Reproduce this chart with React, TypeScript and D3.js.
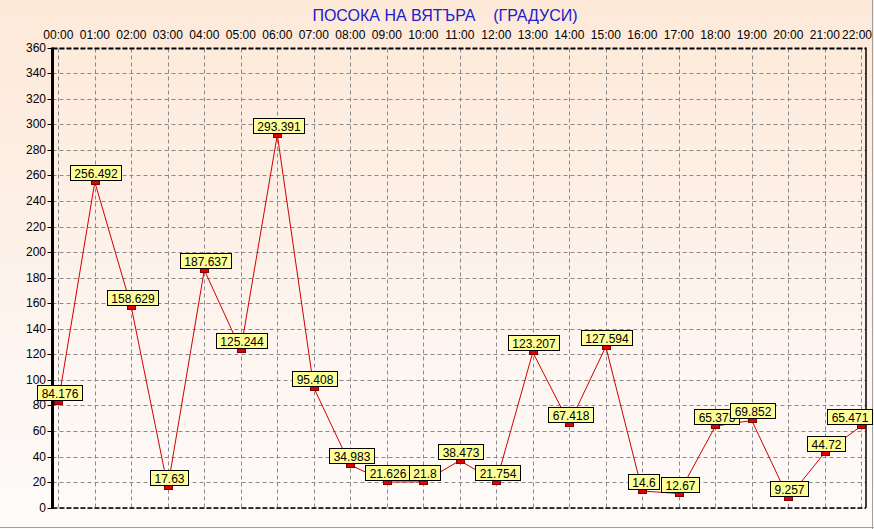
import React from "react";
import * as d3 from "d3";

const hours = ["00:00","01:00","02:00","03:00","04:00","05:00","06:00","07:00","08:00","09:00","10:00","11:00","12:00","13:00","14:00","15:00","16:00","17:00","18:00","19:00","20:00","21:00","22:00"];
const values = [84.176,256.492,158.629,17.63,187.637,125.244,293.391,95.408,34.983,21.626,21.8,38.473,21.754,123.207,67.418,127.594,14.6,12.67,65.373,69.852,9.257,44.72,65.471];
const labels = ["84.176","256.492","158.629","17.63","187.637","125.244","293.391","95.408","34.983","21.626","21.8","38.473","21.754","123.207","67.418","127.594","14.6","12.67","65.373","69.852","9.257","44.72","65.471"];
const yTicks = d3.range(0, 361, 20);
const title = "ПОСОКА НА ВЯТЪРА    (ГРАДУСИ)";

const W = 874, H = 529;
const FONT = "Arial, 'Liberation Sans', sans-serif";

let ctx: CanvasRenderingContext2D | null = null;
function measure(t: string, size = 12) {
  if (!ctx) ctx = document.createElement("canvas").getContext("2d");
  if (!ctx) return t.length * 6.5;
  ctx.font = `${size}px 'Liberation Sans', Arial, sans-serif`;
  return ctx.measureText(t).width;
}

export default function App() {
  const x = d3.scaleLinear().domain([0, hours.length - 1]).range([58.3, 861.3]);
  const y = d3.scaleLinear().domain([0, 360]).range([507.7, 47.7]);
  const left = 52.5, right = 866, top = 48.5, bottom = 508;
  const line = d3.line<number>().x((_, i) => x(i)).y((d) => y(d) + 2);

  return (
    <svg width={W} height={H} style={{ position: "absolute", left: 0, top: 0, display: "block" }} fontFamily={FONT}>
      <defs>
        <linearGradient id="bg" x1="0" y1="0" x2="0" y2="1">
          <stop offset="0" stopColor="#fde9d8" />
          <stop offset="0.6" stopColor="#fdf4ee" />
          <stop offset="1" stopColor="#fdfbfa" />
        </linearGradient>
      </defs>
      <rect x={0} y={0} width={W} height={H} fill="url(#bg)" />
      <line x1={0} x2={W} y1={527.5} y2={527.5} stroke="#a0a0a0" />
      <line x1={872.5} x2={872.5} y1={0} y2={H} stroke="#a0a0a0" />
      <text x={445} y={21} textAnchor="middle" fontSize={16} fill="#2020c8" style={{ whiteSpace: "pre" }}>{title}</text>

      {/* grid */}
      {yTicks.map((t) => (
        <line key={"h" + t} x1={left} x2={right} y1={Math.round(y(t)) + 0.5} y2={Math.round(y(t)) + 0.5} stroke="#8a8a8a" strokeDasharray="4,3" />
      ))}
      {hours.map((h, i) => (
        <line key={"v" + i} x1={Math.round(x(i)) + 0.5} x2={Math.round(x(i)) + 0.5} y1={top} y2={bottom} stroke="#8a8a8a" strokeDasharray="4,3" />
      ))}

      {/* frame */}
      <line x1={left} x2={right} y1={top} y2={top} stroke="#000" strokeWidth={2} strokeDasharray="5,2" />
      <line x1={left} x2={right} y1={bottom} y2={bottom} stroke="#000" strokeWidth={1.5} strokeDasharray="5,2" />
      <line x1={right} x2={right} y1={top - 1} y2={bottom} stroke="#000" strokeWidth={1.5} />
      <line x1={left} x2={left} y1={top - 1} y2={bottom + 1} stroke="#000" strokeWidth={3} />

      {/* y ticks */}
      {yTicks.map((t) => (
        <g key={"yt" + t}>
          <line x1={left - 5} x2={left} y1={Math.round(y(t)) + 0.5} y2={Math.round(y(t)) + 0.5} stroke="#000" />
          <text x={46} y={y(t) + 4} textAnchor="end" fontSize={12} fill="#000">{t}</text>
        </g>
      ))}
      {/* x labels */}
      {hours.map((h, i) => {
        const w = measure(h);
        const cx = Math.min(x(i), W - 2 - w / 2);
        return <text key={"xl" + i} x={cx} y={39} textAnchor="middle" fontSize={12} fill="#000">{h}</text>;
      })}

      <path d={line(values) || ""} fill="none" stroke="#d00000" strokeWidth={1} />

      {values.map((v, i) => {
        const cx = x(i), vy = y(v);
        const tw = measure(labels[i]);
        const bw = Math.round(tw + 8);
        let bx = Math.round(cx - bw / 2 + 1) + 0.5;
        if (bx + bw > W - 1) bx = W - 1.5 - bw;
        const by = Math.round(vy - 15) + 0.5;
        return (
          <g key={"p" + i}>
            <rect x={Math.round(cx - 4) + 0.5} y={Math.round(vy) + 0.5} width={8} height={4} fill="#e00000" stroke="#800000" strokeWidth={1} />
            <rect x={bx} y={by} width={bw} height={15} fill="#ffff99" stroke="#000" strokeWidth={1} />
            <text x={bx + bw / 2} y={by + 12} textAnchor="middle" fontSize={12} fill="#000">{labels[i]}</text>
          </g>
        );
      })}
    </svg>
  );
}
